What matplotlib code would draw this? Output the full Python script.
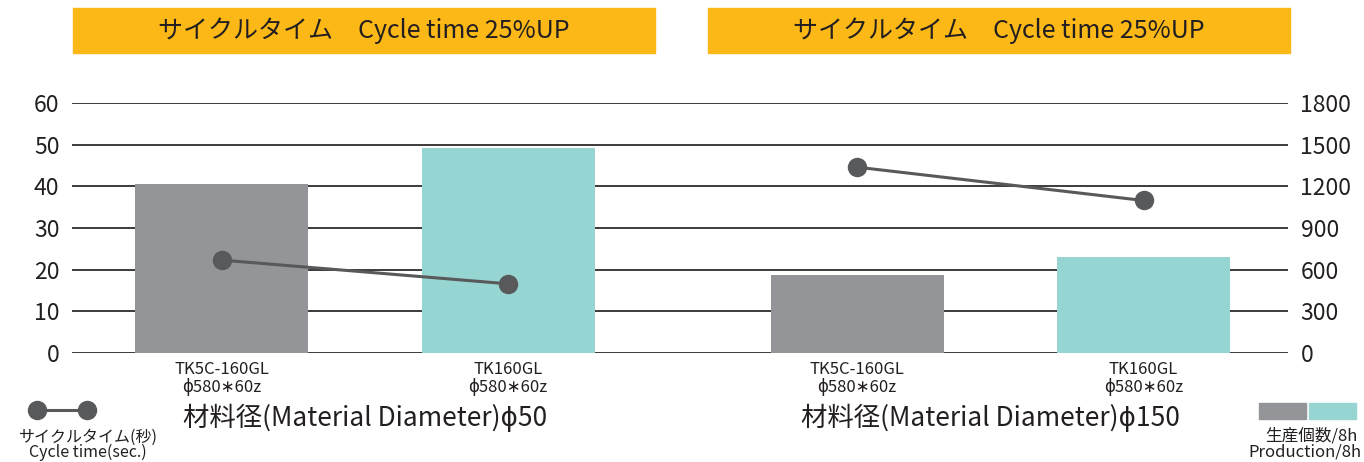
import matplotlib
matplotlib.use("Agg")
import matplotlib.pyplot as plt
from matplotlib.patches import Rectangle
from matplotlib.lines import Line2D

plt.rcParams['font.family'] = ['Noto Sans CJK JP', 'DejaVu Sans']

# data
machines = ["TK5C-160GL\nϕ580∗60z", "TK160GL\nϕ580∗60z",
            "TK5C-160GL\nϕ580∗60z", "TK160GL\nϕ580∗60z"]
groups = ["材料径(Material Diameter)ϕ50", "材料径(Material Diameter)ϕ150"]
production = [1214, 1473, 565, 694]          # 生産個数/8h (right axis)
cycle_time = [22.3, 16.6, 44.6, 36.6]        # seconds (left axis)
left_ticks = [0, 10, 20, 30, 40, 50, 60]
right_ticks = [0, 300, 600, 900, 1200, 1500, 1800]
banner_text = "サイクルタイム　Cycle time 25%UP"

GRAY = "#939598"
TEAL = "#97D5D2"
LINE = "#58595B"
TXT = "#231F20"
BANNER = "#FBB817"

W, H = 1364, 462
fig = plt.figure(figsize=(W / 100, H / 100), dpi=100)

def fx(px):
    return px / W

def fy(py):
    return 1 - py / H

ax2 = fig.add_axes([fx(72), fy(353), fx(1288) - fx(72), fy(103) - fy(353)])
ax = ax2.twinx()
ax.set_zorder(ax2.get_zorder() + 1)
ax.patch.set_visible(False)

xpos = [0, 1, 2.218, 3.218]
colors = [GRAY, TEAL, GRAY, TEAL]

ax2.bar(xpos, production, width=0.604, color=colors, zorder=2)
ax2.set_ylim(0, 1800)
ax2.set_yticks(right_ticks)
ax2.yaxis.tick_right()
ax2.grid(axis='y', color="#2E2B2C", linewidth=1.3, zorder=0)
ax2.set_axisbelow(True)
ax2.set_xlim(-0.522, 3.722)
ax2.set_xticks(xpos)
ax2.set_xticklabels(machines, fontsize=12, color=TXT, linespacing=0.95)
ax2.tick_params(axis='x', length=0, pad=6)
ax2.tick_params(axis='y', length=0, pad=9, labelsize=16.5, labelcolor=TXT)

for i in (0, 2):
    ax.plot(xpos[i:i + 2], cycle_time[i:i + 2], color=LINE, linewidth=2.2,
            marker='o', markersize=13, zorder=5)
ax.set_ylim(0, 60)
ax.set_yticks(left_ticks)
ax.yaxis.tick_left()
ax.tick_params(axis='y', length=0, pad=9, labelsize=16.5, labelcolor=TXT)
ax.tick_params(axis='x', length=0)

for a in (ax, ax2):
    for s in a.spines.values():
        s.set_visible(False)

# banners
for x0, x1 in [(73, 655), (708, 1290)]:
    fig.patches.append(Rectangle((fx(x0), fy(53)), fx(x1) - fx(x0), fy(8) - fy(53),
                                 transform=fig.transFigure, color=BANNER, zorder=0))
    fig.text(fx((x0 + x1) / 2), fy(31), banner_text, ha='center', va='center',
             fontsize=18, color=TXT)

# group labels
for cx, label in zip([365, 990], groups):
    fig.text(fx(cx), fy(418), label, ha='center', va='center', fontsize=19, color=TXT)

# legend: cycle time
fig.lines.append(Line2D([fx(37), fx(87)], [fy(410), fy(410)], transform=fig.transFigure,
                        color=LINE, linewidth=2.2, marker='o', markersize=13))
fig.text(fx(88), fy(437), "サイクルタイム(秒)", ha='center', va='center', fontsize=11.5, color=TXT)
fig.text(fx(88), fy(452), "Cycle time(sec.)", ha='center', va='center', fontsize=11.5, color=TXT)

# legend: production
for x0, c in [(1259, GRAY), (1309, TEAL)]:
    fig.patches.append(Rectangle((fx(x0), fy(419)), fx(47), fy(403) - fy(419),
                                 transform=fig.transFigure, color=c))
fig.text(fx(1358), fy(436), "生産個数/8h", ha='right', va='center', fontsize=12, color=TXT)
fig.text(fx(1362), fy(452), "Production/8h", ha='right', va='center', fontsize=12, color=TXT)

fig.savefig("out.png", dpi=100)
